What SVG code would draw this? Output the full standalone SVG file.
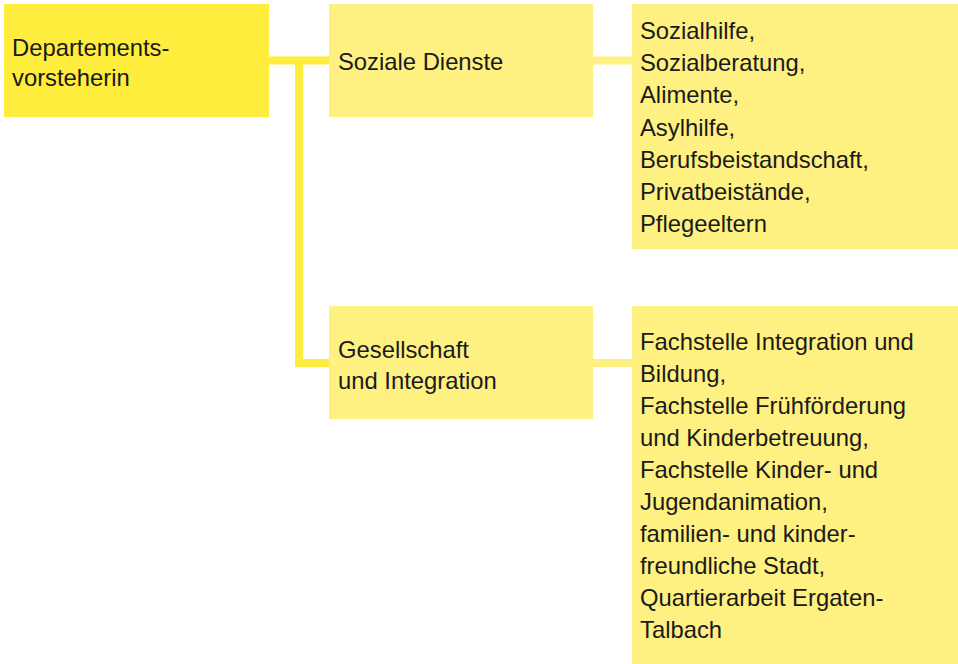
<svg xmlns="http://www.w3.org/2000/svg" width="958" height="664" viewBox="0 0 958 664">
<style>
.root{fill:#FFED3D}
.box{fill:#FFF082}
.t{font-family:"Liberation Sans","Open Sans",Arial,sans-serif;font-size:23.8px;fill:#1a1a1a}
.c1{stroke:#FFED3D;stroke-width:8;fill:none}
.c2{stroke:#FFF082;stroke-width:8;fill:none}
</style>
<rect width="958" height="664" fill="#ffffff"/>
<g id="connectors">
<path class="c1" d="M269 60.5H329"/>
<path class="c1" d="M299 60.5V363H329"/>
<path class="c2" d="M593 60.5H632"/>
<path class="c2" d="M593 363H632"/>
</g>
<g id="departementsvorsteherin">
<rect class="root" x="4" y="4" width="265" height="113"/>
<text class="t" x="12" y="56">Departements-</text>
<text class="t" x="12" y="86">vorsteherin</text>
</g>
<g id="soziale-dienste">
<rect class="box" x="329" y="4" width="264" height="113"/>
<text class="t" x="338" y="70">Soziale Dienste</text>
</g>
<g id="gesellschaft-integration">
<rect class="box" x="329" y="306" width="264" height="113"/>
<text class="t" x="338" y="358">Gesellschaft</text>
<text class="t" x="338" y="389">und Integration</text>
</g>
<g id="soziale-dienste-details">
<rect class="box" x="632" y="4" width="326" height="245"/>
<text class="t" x="640" y="39">Sozialhilfe,</text>
<text class="t" x="640" y="71.2">Sozialberatung,</text>
<text class="t" x="640" y="103.4">Alimente,</text>
<text class="t" x="640" y="135.6">Asylhilfe,</text>
<text class="t" x="640" y="167.8">Berufsbeistandschaft,</text>
<text class="t" x="640" y="200">Privatbeistände,</text>
<text class="t" x="640" y="232.2">Pflegeeltern</text>
</g>
<g id="gesellschaft-details">
<rect class="box" x="632" y="306" width="326" height="358"/>
<text class="t" x="640" y="350">Fachstelle Integration und</text>
<text class="t" x="640" y="382">Bildung,</text>
<text class="t" x="640" y="414">Fachstelle Frühförderung</text>
<text class="t" x="640" y="446">und Kinderbetreuung,</text>
<text class="t" x="640" y="478">Fachstelle Kinder- und</text>
<text class="t" x="640" y="510">Jugendanimation,</text>
<text class="t" x="640" y="542">familien- und kinder-</text>
<text class="t" x="640" y="574">freundliche Stadt,</text>
<text class="t" x="640" y="606">Quartierarbeit Ergaten-</text>
<text class="t" x="640" y="638">Talbach</text>
</g>
</svg>
